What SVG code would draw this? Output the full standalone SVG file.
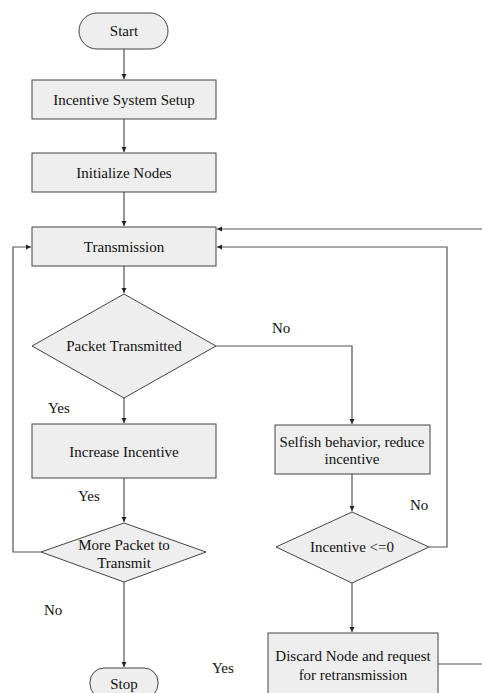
<svg xmlns="http://www.w3.org/2000/svg" width="482" height="693" viewBox="0 0 482 693">
<defs>
<marker id="ah" markerWidth="6" markerHeight="6" refX="5" refY="3" orient="auto" markerUnits="userSpaceOnUse">
<path d="M0,0.5 L5,3 L0,5.5 Z" fill="#222"/>
</marker>
<style>
.box{fill:#eeeeee;stroke:#444;stroke-width:1}
.t{font-family:'Liberation Serif','Times New Roman','DejaVu Serif',serif;font-size:15px;fill:#111;text-anchor:middle}
.l{font-family:'Liberation Serif','Times New Roman','DejaVu Serif',serif;font-size:15px;fill:#111}
.c{fill:none;stroke:#555;stroke-width:1.2}
.ca{fill:none;stroke:#555;stroke-width:1.2;marker-end:url(#ah)}
</style>
</defs>
<rect width="482" height="693" fill="#fff"/>
<g id="connectors">
<path class="ca" d="M124,49 V79"/>
<path class="ca" d="M124,119 V152"/>
<path class="ca" d="M124,192 V226"/>
<path class="ca" d="M482,229 H217"/>
<path class="ca" d="M429,547 H447 V247 H217"/>
<path class="ca" d="M41,552 H13 V247 H31"/>
<path class="ca" d="M124,266 V293"/>
<path class="ca" d="M124,398 V423"/>
<path class="ca" d="M216,346 H352 V424"/>
<path class="ca" d="M124,478 V522"/>
<path class="ca" d="M352,474 V511"/>
<path class="ca" d="M124,582 V667"/>
<path class="ca" d="M352,583 V632"/>
<path class="c" d="M438,664 H482"/>
<text class="l" x="272" y="333">No</text>
<text class="l" x="48" y="413">Yes</text>
<text class="l" x="78" y="501">Yes</text>
<text class="l" x="410" y="510">No</text>
<text class="l" x="44" y="615">No</text>
<text class="l" x="212" y="673">Yes</text>
</g>
<g id="start">
<rect class="box" x="79" y="13" width="89" height="36" rx="18"/>
<text class="t" x="124" y="36">Start</text>
</g>
<g id="setup">
<rect class="box" x="32" y="80" width="184" height="39"/>
<text class="t" x="124" y="105">Incentive System Setup</text>
</g>
<g id="init">
<rect class="box" x="32" y="153" width="184" height="39"/>
<text class="t" x="124" y="178">Initialize Nodes</text>
</g>
<g id="transmission">
<rect class="box" x="32" y="227" width="184" height="39"/>
<text class="t" x="124" y="252">Transmission</text>
</g>
<g id="packet-transmitted">
<polygon class="box" points="124,294 216,346 124,398 32,346"/>
<text class="t" x="124" y="351">Packet Transmitted</text>
</g>
<g id="increase">
<rect class="box" x="32" y="424" width="184" height="54"/>
<text class="t" x="124" y="457">Increase Incentive</text>
</g>
<g id="selfish">
<rect class="box" x="275" y="425" width="155" height="49"/>
<text class="t" x="352" y="447">Selfish behavior, reduce</text>
<text class="t" x="352" y="464">incentive</text>
</g>
<g id="more-packet">
<polygon class="box" points="124,523 206,552 124,582 41,552"/>
<text class="t" x="124" y="550">More Packet to</text>
<text class="t" x="124" y="568">Transmit</text>
</g>
<g id="incentive-check">
<polygon class="box" points="352,512 429,547 352,583 276,547"/>
<text class="t" x="352" y="552">Incentive &lt;=0</text>
</g>
<g id="stop">
<rect class="box" x="90" y="668" width="68" height="30" rx="14"/>
<text class="t" x="124" y="689">Stop</text>
</g>
<g id="discard">
<rect class="box" x="268" y="633" width="170" height="66"/>
<text class="t" x="353" y="661">Discard Node and request</text>
<text class="t" x="353" y="680">for retransmission</text>
</g>
</svg>
